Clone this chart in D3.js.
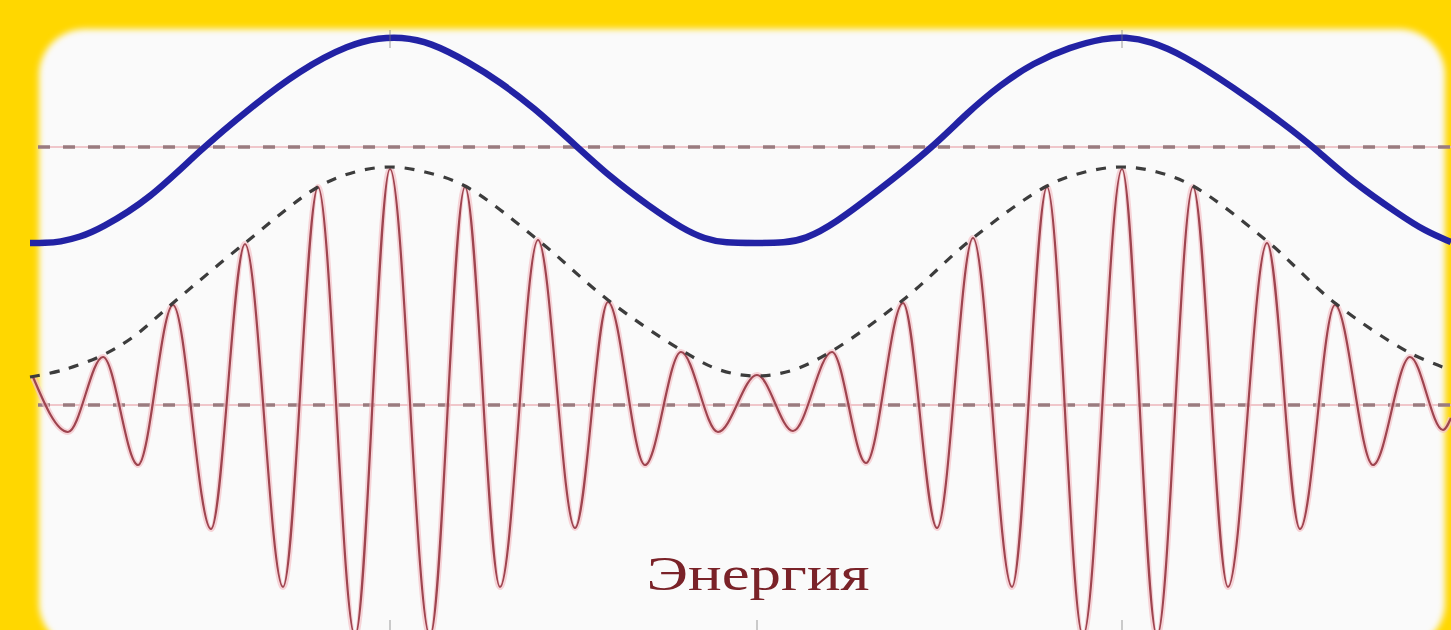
<!DOCTYPE html>
<html><head><meta charset="utf-8">
<script src="https://cdn.jsdelivr.net/npm/d3@7"></script>
<style>html,body{margin:0;padding:0;background:#FFD700;overflow:hidden}</style>
</head><body>
<svg id="c" width="1451" height="630"></svg>
<script>
// ---- data (time units t, amplitude units v) ----
const energyT = [0, 1.5, 3.0, 5.0, 7.0, 12.0, 17.0, 22.0, 27.0, 32.0, 35.0, 37.0, 40.0, 44.0, 47.0, 50.3, 54.3, 58.0, 62.0, 65.3, 67.5, 69.5, 72.5, 75.5, 77.5, 80.3, 85.3, 90.3, 93.7, 97.0, 100.3, 104.0, 107.5, 109.5, 112.0, 115.3, 120.3, 125.3, 128.7, 132.0, 137.0, 139.5, 142.1];
const energyV = [1.62, 1.62, 1.63, 1.68, 1.76, 2.06, 2.55, 2.97, 3.35, 3.61, 3.67, 3.68, 3.63, 3.42, 3.23, 2.98, 2.62, 2.28, 1.98, 1.76, 1.66, 1.62, 1.62, 1.62, 1.66, 1.80, 2.18, 2.58, 2.92, 3.20, 3.42, 3.58, 3.67, 3.68, 3.64, 3.50, 3.18, 2.82, 2.55, 2.25, 1.90, 1.74, 1.63];

const signalT = [0.3, 3.8, 7.3, 10.8, 14.3, 18.1, 21.5, 25.3, 28.8, 32.5, 36.0, 40.0, 43.5, 47.0, 50.8, 54.5, 57.8, 61.5, 65.1, 68.8, 72.7, 76.3, 80.2, 83.6, 87.3, 90.7, 94.3, 98.2, 101.7, 105.3, 109.2, 112.7, 116.3, 119.8, 123.7, 127.0, 130.5, 134.3, 138.0, 141.3, 142.1];
const signalV = [0.28, -0.27, 0.48, -0.60, 1.00, -1.24, 1.61, -1.82, 2.18, -2.31, 2.36, -2.31, 2.18, -1.82, 1.65, -1.23, 1.03, -0.60, 0.53, -0.27, 0.30, -0.26, 0.53, -0.58, 1.02, -1.23, 1.67, -1.82, 2.18, -2.31, 2.36, -2.31, 2.18, -1.82, 1.62, -1.24, 1.00, -0.60, 0.48, -0.25, -0.13];

const envelopeT = [0, 3.3, 7.3, 10.3, 14.3, 21.5, 28.8, 32.5, 36.0, 39.5, 43.5, 50.8, 57.8, 65.1, 69.0, 72.7, 76.3, 80.2, 87.3, 94.3, 101.7, 105.5, 109.2, 112.7, 116.3, 123.7, 130.5, 138.0, 142.1];
const envelopeV = [0.28, 0.35, 0.50, 0.68, 1.02, 1.62, 2.18, 2.33, 2.38, 2.33, 2.19, 1.65, 1.05, 0.55, 0.35, 0.29, 0.35, 0.54, 1.05, 1.67, 2.19, 2.33, 2.38, 2.33, 2.19, 1.64, 1.02, 0.52, 0.35];

const refLevels = [2.58, 0];
const markT = [36.0, 72.7, 109.2];
const labelText = "Энергия";

// ---- drawing ----
const W = 1451, H = 630;
const svg = d3.select("#c");
const x = d3.scaleLinear().domain([0, 142.1]).range([30, 1451]);
const y = d3.scaleLinear().domain([-2.25, 4.05]).range([630, 0]);

const defs = svg.append("defs");
defs.append("filter").attr("id", "soft").attr("x", "-5%").attr("y", "-5%").attr("width", "110%").attr("height", "110%")
  .append("feGaussianBlur").attr("stdDeviation", 3);
defs.append("filter").attr("id", "soft1")
  .append("feGaussianBlur").attr("stdDeviation", 0.6);
defs.append("clipPath").attr("id", "clip").append("rect").attr("x", 0).attr("y", 0).attr("width", W).attr("height", H);

svg.append("rect").attr("width", W).attr("height", H).attr("fill", "#FFD700");
svg.append("rect").attr("x", 39).attr("y", 29).attr("width", 1406).attr("height", 620)
  .attr("rx", 46).attr("fill", "#fafafa").attr("filter", "url(#soft)");

const g = svg.append("g").attr("clip-path", "url(#clip)");

// faint grid marks
markT.forEach(t => {
  g.append("line").attr("x1", x(t)).attr("x2", x(t)).attr("y1", H - 10).attr("y2", H)
    .attr("stroke", "#9a9a9a").attr("stroke-width", 1);
});

// horizontal reference dashed lines
refLevels.forEach(v => {
  g.append("line").attr("x1", 38).attr("x2", W).attr("y1", y(v)).attr("y2", y(v))
    .attr("stroke", "#ecb6bb").attr("stroke-width", 1.5);
  g.append("line").attr("x1", 38).attr("x2", W).attr("y1", y(v)).attr("y2", y(v))
    .attr("stroke", "#9a7b7f").attr("stroke-width", 3.5).attr("stroke-dasharray", "12,13");
});

const zip = (a, b) => a.map((t, i) => [t, b[i]]);

const lineMono = d3.line().x(d => x(d[0])).y(d => y(d[1])).curve(d3.curveMonotoneX);
const lineSmooth = d3.line().x(d => x(d[0])).y(d => y(d[1])).curve(d3.curveCatmullRom.alpha(0.5));
const lineBasis = d3.line().x(d => x(d[0])).y(d => y(d[1])).curve(d3.curveBasis);

// red signal
const sig = zip(signalT, signalV);
g.append("path").attr("d", lineMono(sig)).attr("fill", "none")
  .attr("stroke", "#f4c2c8").attr("stroke-width", 6).attr("opacity", 0.7);
g.append("path").attr("d", lineMono(sig)).attr("fill", "none")
  .attr("stroke", "#9e4450").attr("stroke-width", 2.2).attr("filter", "url(#soft1)");

// envelope dashed
g.append("path").attr("d", lineSmooth(zip(envelopeT, envelopeV)))
  .attr("fill", "none").attr("stroke", "#3c3c3c").attr("stroke-width", 3.2)
  .attr("stroke-dasharray", "10,10");

// blue energy curve
g.append("path").attr("d", lineBasis(zip(energyT, energyV))).attr("fill", "none")
  .attr("stroke", "#2424a4").attr("stroke-width", 6.5).attr("stroke-linejoin", "round")
  .attr("filter", "url(#soft1)");

// top marks at energy peaks
markT.forEach((t, i) => {
  if (i === 1) return;
  g.append("line").attr("x1", x(t)).attr("x2", x(t)).attr("y1", 30).attr("y2", 48)
    .attr("stroke", "#777").attr("stroke-width", 1).attr("opacity", 0.7);
});

// label
svg.append("text").attr("x", 758).attr("y", 590).attr("text-anchor", "middle")
  .attr("font-family", "'Liberation Serif', 'Times New Roman', serif").attr("font-size", 48)
  .attr("fill", "#7a2228").attr("textLength", 223).attr("lengthAdjust", "spacingAndGlyphs")
  .text(labelText);
</script>
</body></html>
